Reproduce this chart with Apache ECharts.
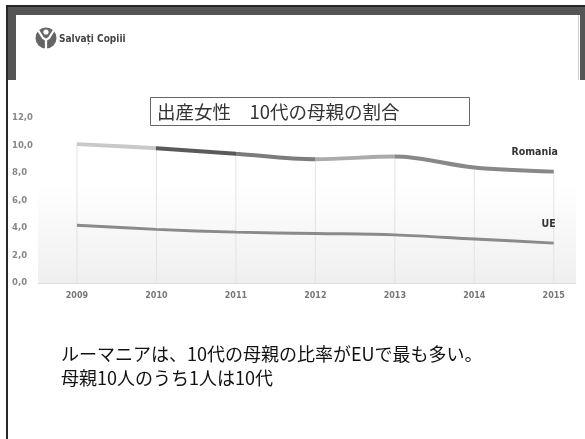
<!DOCTYPE html>
<html>
<head>
<meta charset="utf-8">
<script src="https://cdn.jsdelivr.net/npm/echarts@6/dist/echarts.min.js"></script>
<style>
html,body{margin:0;padding:0;background:#fff;}
#c{width:585px;height:439px;}
</style>
</head>
<body>
<div id="c"></div>
<script>
var years = [2009, 2010, 2011, 2012, 2013, 2014, 2015];
var romania = [10.1, 9.8, 9.4, 9.0, 9.2, 8.4, 8.1];
var ue = [4.2, 3.9, 3.7, 3.6, 3.5, 3.2, 2.9];
var yTicks = [0, 2, 4, 6, 8, 10, 12];
var titleText = '出産女性\u300010代の母親の割合';
var noteLines = ['ルーマニアは、10代の母親の比率がEUで最も多い。', '母親10人のうち1人は10代'];
var seriesNames = ['Romania', 'UE'];

function pairs(vals){ return years.map(function(y,i){ return [y, vals[i]]; }); }

var chart = echarts.init(document.getElementById('c'), null, {renderer:'canvas'});
var labelFont = '"DejaVu Sans Condensed","Liberation Sans Narrow",sans-serif';
chart.setOption({
  animation:false,
  backgroundColor:'#fff',
  grid:{left:38, right:9, top:118, bottom:156, show:true, borderWidth:0,
    backgroundColor:{type:'linear',x:0,y:0,x2:0,y2:1,colorStops:[{offset:0,color:'#ffffff'},{offset:0.4,color:'#ffffff'},{offset:1,color:'#efefef'}]}},
  xAxis:{type:'value', min:2008.51, max:2015.28,
    axisLine:{show:true, lineStyle:{color:'#dedede', width:1}},
    axisTick:{show:false}, splitLine:{show:false},
    axisLabel:{customValues:years, formatter:function(v){return String(v);}, color:'#777', fontSize:8, fontWeight:'bold', fontFamily:'DejaVu Sans', margin:9}
  },
  yAxis:{type:'value', min:0, max:12, interval:2,
    axisLine:{show:false}, axisTick:{show:false}, splitLine:{show:false},
    axisLabel:{align:'left', margin:26, color:'#888', fontSize:8.5, fontWeight:'bold', fontFamily:'DejaVu Sans',
      formatter:function(v){return v.toFixed(1).replace('.', ',');}}
  },
  visualMap:{show:false, type:'piecewise', seriesIndex:1, dimension:0,
    pieces:[
      {lte:2010, color:'#c9c9c9'},
      {gt:2010, lte:2011, color:'#5a5a5a'},
      {gt:2011, lte:2012, color:'#7c7c7c'},
      {gt:2012, lte:2013, color:'#ababab'},
      {gt:2013, color:'#888888'}
    ]},
  series:[
    {type:'bar', data:pairs(romania), barWidth:1, silent:true, z:1,
      itemStyle:{color:'#e3e3e3'}},
    {name:seriesNames[0], type:'line', smooth:0.35, data:pairs(romania), showSymbol:false, z:3,
      lineStyle:{width:4},
      endLabel:{show:true, formatter:seriesNames[0], align:'right', verticalAlign:'bottom', offset:[-4,-14],
        color:'#333', fontSize:10.5, fontWeight:'bold', fontFamily:labelFont}},
    {name:seriesNames[1], type:'line', smooth:0.35, data:pairs(ue), showSymbol:false, z:3,
      lineStyle:{width:3, color:'#8a8a8a'}, itemStyle:{color:'#8a8a8a'},
      endLabel:{show:true, formatter:seriesNames[1], align:'right', verticalAlign:'bottom', offset:[-6,-13],
        color:'#333', fontSize:10.5, fontWeight:'bold', fontFamily:labelFont}}
  ],
  graphic:[
    {type:'rect', z:-10, shape:{x:8,y:7,width:577,height:73}, style:{fill:'#555555'}, silent:true},
    {type:'rect', z:-9, shape:{x:16,y:15,width:564,height:65}, style:{fill:'#ffffff'}, silent:true},
    {type:'rect', z:-9, shape:{x:578,y:15,width:1,height:65}, style:{fill:'#cfcfcf'}, silent:true},
    {type:'rect', z:-8, shape:{x:6,y:5,width:579,height:2}, style:{fill:'#262626'}, silent:true},
    {type:'rect', z:-8, shape:{x:6,y:5,width:2,height:434}, style:{fill:'#262626'}, silent:true},
    {type:'circle', shape:{cx:46,cy:38,r:10.5}, style:{fill:'#666'}, silent:true},
    {type:'polyline', shape:{points:[[38,30],[43,38],[46,40],[49,38],[54,30]]}, style:{stroke:'#fff', lineWidth:2.2, fill:null}, silent:true},
    {type:'line', shape:{x1:46,y1:40,x2:46,y2:49}, style:{stroke:'#fff', lineWidth:2.2}, silent:true},
    {type:'circle', shape:{cx:46,cy:32,r:2.6}, style:{fill:'#fff'}, silent:true},
    {type:'text', x:59, y:39, style:{text:'Salvați Copiii', fill:'#444', font:'bold 10px "DejaVu Sans Condensed","DejaVu Sans",sans-serif', textVerticalAlign:'middle'}, silent:true},
    {type:'rect', shape:{x:150.5,y:97.5,width:319,height:28}, style:{fill:'#fff', stroke:'#666', lineWidth:1}, silent:true, z:5},
    {type:'text', x:157, y:112, z:6, style:{text:titleText, fill:'#333', font:'18.5px "Noto Sans CJK JP",sans-serif', textVerticalAlign:'middle'}, silent:true},
    {type:'text', x:61, y:354, style:{text:noteLines[0], fill:'#111', font:'18px "Noto Sans CJK JP",sans-serif', textVerticalAlign:'middle'}, silent:true},
    {type:'text', x:61, y:378, style:{text:noteLines[1], fill:'#111', font:'18px "Noto Sans CJK JP",sans-serif', textVerticalAlign:'middle'}, silent:true}
  ]
});
</script>
</body>
</html>
